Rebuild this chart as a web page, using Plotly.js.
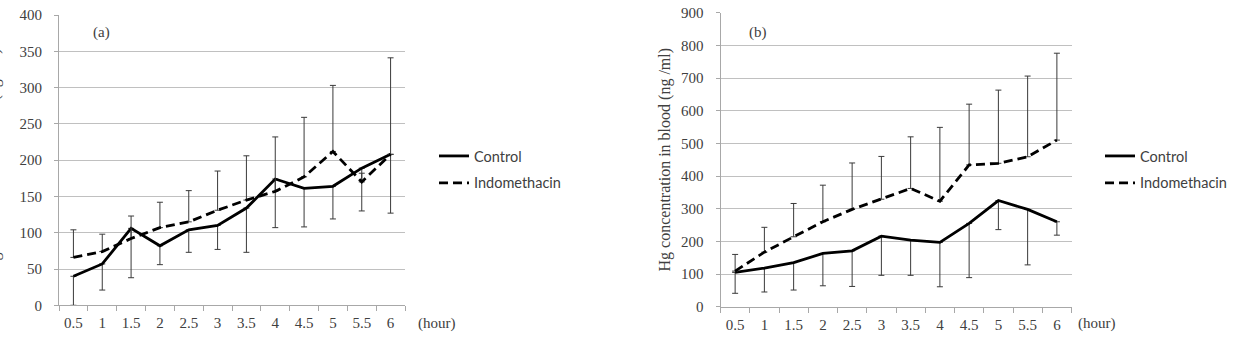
<!DOCTYPE html>
<html>
<head>
<meta charset="utf-8">
<script src="https://cdn.plot.ly/plotly-3.0.1.min.js"></script>
<style>
  html, body { margin: 0; padding: 0; background: #fff; }
  #chart { width: 1240px; height: 342px; }
</style>
</head>
<body>
<div id="chart"></div>
<script>
// Sampling times (hours after dosing)
const hours = ['0.5', '1', '1.5', '2', '2.5', '3', '3.5', '4', '4.5', '5', '5.5', '6'];

// Panel (a): means and SD
const ctrlA   = [40, 57, 106, 82, 104, 110, 134, 174, 161, 164, 189, 208];
const ctrlASd = [40, 36, 68, 26, 31, 33, 61, 67, 53, 45, 59, 81];
const indoA   = [66, 74, 92, 107, 115, 131, 145, 157, 177, 212, 170, 208];
const indoASd = [38, 24, 31, 35, 43, 54, 61, 75, 82, 91, 12, 133];

// Panel (b): Hg concentration in blood (ng/ml), means and SD
const ctrlB   = [105, 118, 135, 163, 171, 216, 204, 197, 255, 325, 298, 260];
const ctrlBSd = [64, 73, 84, 99, 109, 120, 108, 136, 166, 89, 170, 41];
const indoB   = [109, 167, 214, 260, 298, 329, 362, 323, 434, 439, 459, 510];
const indoBSd = [51, 76, 102, 112, 142, 131, 158, 226, 186, 224, 247, 266];

const seriesNames = ['Control', 'Indomethacin'];
const yTitle = 'Hg concentration in blood (ng /ml)';
const zeros = hours.map(() => 0);

const serif = 'Liberation Serif, Times New Roman, serif';
const sans = 'Lato, Open Sans, sans-serif';
const textGrey = '#404040';
const gridGrey = '#c0c0c0';
const axisGrey = '#a8a8a8';

// Control shows the lower SD whisker, Indomethacin the upper one
function errMinus(sd) {
  return { type: 'data', symmetric: false, array: zeros, arrayminus: sd,
           color: '#3a3a3a', thickness: 1, width: 3 };
}
function errPlus(sd) {
  return { type: 'data', symmetric: false, array: sd, arrayminus: zeros,
           color: '#3a3a3a', thickness: 1, width: 3 };
}

const solid = { color: '#000', width: 2.8 };
const dashed = { color: '#000', width: 2.8, dash: '9px,5px' };

const traces = [
  { x: hours, y: ctrlA, name: seriesNames[0], mode: 'lines', line: solid,
    error_y: errMinus(ctrlASd), xaxis: 'x', yaxis: 'y',
    legend: 'legend', legendgroup: 'a1' },
  { x: hours, y: indoA, name: seriesNames[1], mode: 'lines', line: dashed,
    error_y: errPlus(indoASd), xaxis: 'x', yaxis: 'y',
    legend: 'legend', legendgroup: 'a2' },
  { x: hours, y: ctrlB, name: seriesNames[0], mode: 'lines', line: solid,
    error_y: errMinus(ctrlBSd), xaxis: 'x2', yaxis: 'y2',
    legend: 'legend2', legendgroup: 'b1' },
  { x: hours, y: indoB, name: seriesNames[1], mode: 'lines', line: dashed,
    error_y: errPlus(indoBSd), xaxis: 'x2', yaxis: 'y2',
    legend: 'legend2', legendgroup: 'b2' }
];

const W = 1240, H = 342;
const px = v => v / W;
const py = v => (H - v) / H;

function xAxis(domain, anchor) {
  return {
    domain: domain, anchor: anchor, type: 'category',
    range: [-0.5, 11.5], fixedrange: true,
    showgrid: false, zeroline: false,
    showline: true, linecolor: axisGrey, linewidth: 1,
    ticks: 'outside', tickson: 'boundaries', ticklen: 5,
    tickcolor: axisGrey, tickwidth: 1,
    ticklabelstandoff: 4,
    tickfont: { family: serif, size: 15, color: textGrey }
  };
}
function yAxis(domain, anchor, max, step, title) {
  const ax = {
    domain: domain, anchor: anchor,
    range: [0, max], dtick: step, tick0: 0, fixedrange: true,
    showgrid: true, gridcolor: gridGrey, gridwidth: 1,
    zeroline: false,
    showline: true, linecolor: axisGrey, linewidth: 1,
    ticks: 'outside', ticklen: 4, tickcolor: axisGrey, tickwidth: 1,
    ticklabelstandoff: 9,
    tickfont: { family: serif, size: 15, color: textGrey }
  };
  if (title) {
    ax.title = { text: title, standoff: 6,
                 font: { family: serif, size: 16, color: textGrey } };
  }
  return ax;
}

const legendBase = {
  xanchor: 'left', yanchor: 'top',
  bgcolor: 'rgba(0,0,0,0)', borderwidth: 0,
  font: { family: sans, size: 14.5, color: textGrey },
  traceorder: 'grouped', tracegroupgap: 5
};

function label(text, x, y, extra) {
  return Object.assign({
    text: text, xref: 'paper', yref: 'paper', x: px(x), y: py(y),
    xanchor: 'center', yanchor: 'middle', showarrow: false,
    font: { family: serif, size: 15, color: textGrey }
  }, extra || {});
}

const layout = {
  width: W, height: H,
  margin: { l: 0, r: 0, t: 0, b: 0 },
  paper_bgcolor: '#fff', plot_bgcolor: '#fff',
  showlegend: true,
  xaxis: xAxis([px(59), px(405)], 'y'),
  yaxis: yAxis([py(305.3), py(15)], 'x', 400, 50, null),
  xaxis2: xAxis([px(720.5), px(1071.5)], 'y2'),
  yaxis2: yAxis([py(306.7), py(12.7)], 'x2', 900, 100, yTitle),
  legend: Object.assign({ x: px(434), y: py(140) }, legendBase),
  legend2: Object.assign({ x: px(1100), y: py(140) }, legendBase),
  annotations: [
    // y-axis title of panel (a), running off the left page edge
    label(yTitle, -6, 160, { textangle: -90,
      font: { family: serif, size: 16, color: textGrey } }),
    label('(a)', 101, 33),
    label('(b)', 758, 33),
    label('(hour)', 437, 323),
    label('(hour)', 1097, 323)
  ]
};

Plotly.newPlot('chart', traces, layout, { staticPlot: true, displayModeBar: false });
</script>
</body>
</html>
